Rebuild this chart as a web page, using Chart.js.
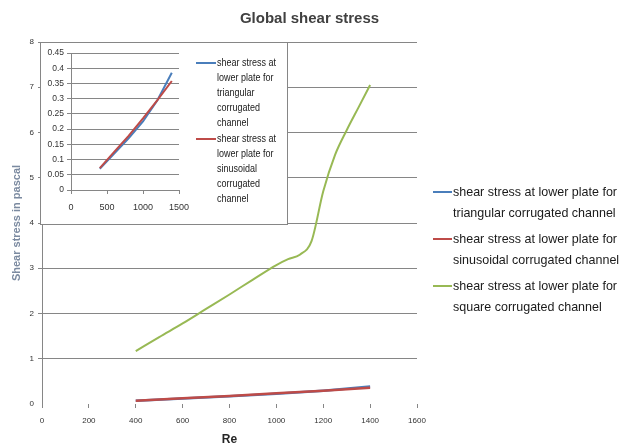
<!DOCTYPE html>
<html>
<head>
<meta charset="utf-8">
<title>Global shear stress</title>
<script src="https://cdn.jsdelivr.net/npm/chart.js@4"></script>
<style>
  html, body { margin: 0; padding: 0; background: #fff; }
  #wrap { position: relative; width: 619px; height: 448px; }
  #main { position: absolute; left: 0; top: 0; }
  #inset { position: absolute; left: 40px; top: 42px; }
</style>
</head>
<body>
<div id="wrap">
  <canvas id="main" width="619" height="448"></canvas>
  <canvas id="inset" width="248" height="183"></canvas>
</div>
<script>
// Re values and shear stress (Pa)
const reSmall = [400, 600, 800, 1000, 1200, 1400];
const triangular = [0.07, 0.12, 0.17, 0.225, 0.295, 0.385];
const sinusoidal = [0.072, 0.125, 0.178, 0.235, 0.295, 0.358];

const reSquare = [400, 500, 600, 700, 800, 900, 1000, 1050, 1100, 1150, 1200, 1250, 1300, 1350, 1400];
const square = [1.17, 1.48, 1.78, 2.1, 2.42, 2.75, 3.07, 3.2, 3.3, 3.6, 4.7, 5.5, 6.05, 6.55, 7.05];

const mainXTicks = [0, 1600, 200];
const mainYTicks = [0, 8, 1];
const insetXTicks = [0, 1500, 500];
const insetYTicks = [0, 0.45, 0.05];

const legendMain = [
  ['shear stress at lower plate for', 'triangular corrugated channel'],
  ['shear stress at lower plate for', 'sinusoidal corrugated channel'],
  ['shear stress at lower plate for', 'square corrugated channel'],
];
const legendInset = [
  ['shear stress at', 'lower plate for', 'triangular', 'corrugated', 'channel'],
  ['shear stress at', 'lower plate for', 'sinusoidal', 'corrugated', 'channel'],
];

const BLUE = '#4a7ebb';
const RED = '#be4b48';
const GREEN = '#98b954';
const GRID = '#868686';
const FONT = "'Liberation Sans', Arial, sans-serif";

const toPoints = (xs, ys) => xs.map((x, i) => ({ x, y: ys[i] }));
const plain = (v) => String(+Number(v).toFixed(2));

// legend drawn by hand so labels can wrap like the original
const lineLegend = {
  id: 'lineLegend',
  afterDraw(chart, args, opts) {
    const { ctx } = chart;
    ctx.save();
    ctx.font = opts.font;
    ctx.fillStyle = opts.color;
    ctx.textBaseline = 'middle';
    const squeeze = opts.textWidth / ctx.measureText(opts.lines[0][0]).width;
    opts.lines.forEach((lines, i) => {
      const y = opts.top + i * opts.itemStep;
      ctx.strokeStyle = chart.data.datasets[i].borderColor;
      ctx.lineWidth = 2;
      ctx.beginPath();
      ctx.moveTo(opts.left, y);
      ctx.lineTo(opts.left + opts.lineLength, y);
      ctx.stroke();
      lines.forEach((t, j) => {
        ctx.save();
        ctx.translate(opts.left + opts.lineLength + 1, y + j * opts.lineHeight);
        ctx.scale(squeeze, 1);
        ctx.fillText(t, 0, 0);
        ctx.restore();
      });
    });
    ctx.restore();
  },
};

const frame = {
  id: 'frame',
  beforeDraw(chart, args, opts) {
    const { ctx, width, height } = chart;
    ctx.save();
    ctx.fillStyle = '#fff';
    ctx.fillRect(0, 0, width, height);
    if (opts.border) {
      ctx.strokeStyle = opts.border;
      ctx.lineWidth = 1;
      ctx.strokeRect(0.5, 0.5, width - 1, height - 1);
    }
    ctx.restore();
  },
};

const spacer = (w) => ({
  position: 'right',
  display: true,
  grid: { display: false },
  ticks: { display: false },
  border: { display: false },
  afterFit(s) { s.width = w; },
});

new Chart(document.getElementById('main'), {
  type: 'scatter',
  data: {
    datasets: [
      { label: legendMain[0].join(' '), data: toPoints(reSmall, triangular), borderColor: BLUE, borderWidth: 2.5, order: 1 },
      { label: legendMain[1].join(' '), data: toPoints(reSmall, sinusoidal), borderColor: RED, borderWidth: 2.5, order: 0 },
      { label: legendMain[2].join(' '), data: toPoints(reSquare, square), borderColor: GREEN, borderWidth: 2, order: 2, cubicInterpolationMode: 'monotone' },
    ].map((d) => ({ ...d, showLine: true, pointRadius: 0, fill: false })),
  },
  options: {
    responsive: false,
    animation: false,
    events: [],
    plugins: {
      legend: { display: false },
      tooltip: { enabled: false },
      title: {
        display: true,
        text: 'Global shear stress',
        color: '#404040',
        font: { family: FONT, size: 15, weight: 'bold', lineHeight: 1.2 },
        padding: { top: 10, bottom: 14 },
      },
      frame: {},
      lineLegend: {
        lines: legendMain,
        left: 433, top: 192, itemStep: 47, lineHeight: 21, lineLength: 19,
        textWidth: 164, font: `13px ${FONT}`, color: '#1a1a1a',
      },
    },
    scales: {
      x: {
        type: 'linear',
        min: mainXTicks[0], max: mainXTicks[1],
        ticks: { stepSize: mainXTicks[2], padding: 8, color: '#333', font: { family: FONT, size: 8 }, callback: plain },
        grid: { display: true, drawOnChartArea: false, tickLength: 4, color: GRID },
        border: { display: false },
        title: { display: true, text: 'Re', color: '#262626', font: { family: FONT, size: 12, weight: 'bold' }, padding: { top: 2, bottom: 1 } },
        afterFit(s) { s.height = 44; },
      },
      y: {
        min: mainYTicks[0], max: mainYTicks[1],
        ticks: { stepSize: mainYTicks[2], padding: 4, color: '#333', font: { family: FONT, size: 8 }, callback: plain },
        grid: { color: (c) => (c.tick && c.tick.value === 0 ? 'rgba(0,0,0,0)' : GRID), tickLength: 4 },
        border: { display: true, color: GRID },
        title: { display: true, text: 'Shear stress in pascal', color: '#7b8aa0', font: { family: FONT, size: 11, weight: 'bold' }, padding: { top: 10, bottom: 0 } },
        afterFit(s) { s.width = 42; },
      },
      yR: spacer(202),
    },
  },
  plugins: [frame, lineLegend],
});

new Chart(document.getElementById('inset'), {
  type: 'scatter',
  data: {
    datasets: [
      { label: legendInset[0].join(' '), data: toPoints(reSmall, triangular), borderColor: BLUE, order: 1 },
      { label: legendInset[1].join(' '), data: toPoints(reSmall, sinusoidal), borderColor: RED, order: 0 },
    ].map((d) => ({ ...d, showLine: true, pointRadius: 0, borderWidth: 2, fill: false })),
  },
  options: {
    responsive: false,
    animation: false,
    events: [],
    layout: { padding: { top: 11 } },
    plugins: {
      legend: { display: false },
      tooltip: { enabled: false },
      frame: { border: GRID },
      lineLegend: {
        lines: legendInset,
        left: 156, top: 21, itemStep: 76, lineHeight: 15, lineLength: 20,
        textWidth: 59, font: `11px ${FONT}`, color: '#1a1a1a',
      },
    },
    scales: {
      x: {
        type: 'linear',
        min: insetXTicks[0], max: insetXTicks[1],
        ticks: { stepSize: insetXTicks[2], padding: 8, color: '#333', font: { family: FONT, size: 9 }, callback: plain },
        grid: { display: true, drawOnChartArea: false, tickLength: 4, color: GRID },
        border: { display: true, color: GRID },
        afterFit(s) { s.height = 35; },
      },
      y: {
        min: insetYTicks[0], max: insetYTicks[1],
        ticks: { stepSize: insetYTicks[2], padding: 3, color: '#333', font: { family: FONT, size: 8.5 }, callback: plain },
        grid: { color: GRID, tickLength: 4 },
        border: { display: true, color: GRID },
        afterFit(s) { s.width = 31; },
      },
      yR: spacer(109),
    },
  },
  plugins: [frame, lineLegend],
});
</script>
</body>
</html>
